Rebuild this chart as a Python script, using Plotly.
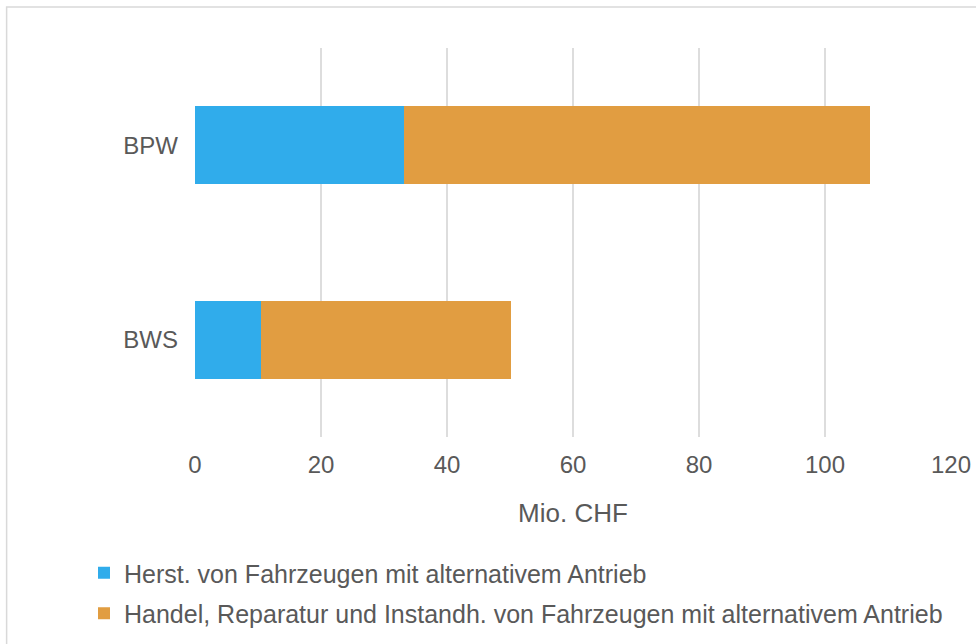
import plotly.graph_objects as go

categories = ["BWS", "BPW"]
herst = [10.5, 33.1]
handel = [39.7, 74.1]
series_names = [
    "Herst. von Fahrzeugen mit alternativem Antrieb",
    "Handel, Reparatur und Instandh. von Fahrzeugen mit alternativem Antrieb",
]
x_ticks = [0, 20, 40, 60, 80, 100, 120]

W, H = 976, 644
L, R, T, B = 194.5, 25, 48, 207
pw = W - L - R
ph = H - T - B

txt = "#595959"
font = "Liberation Sans, Arial, sans-serif"

fig = go.Figure()
fig.add_trace(go.Bar(y=categories, x=herst, orientation="h", name=series_names[0],
                     legendgroup="a",
                     marker=dict(color="#30ACEB", line=dict(width=0))))
fig.add_trace(go.Bar(y=categories, x=handel, orientation="h", name=series_names[1],
                     legendgroup="b",
                     marker=dict(color="#E19D41", line=dict(width=0))))

def px_x(p):
    return (p - L) / pw

def px_y(p):
    return (H - B - p) / ph

fig.add_shape(type="rect", xref="paper", yref="paper",
              x0=px_x(6), x1=px_x(990), y0=px_y(7), y1=px_y(660),
              line=dict(color="#D9D9D9", width=1.5), fillcolor="rgba(0,0,0,0)", layer="below")

fig.update_layout(
    width=W, height=H,
    margin=dict(l=L, r=R, t=T, b=B, pad=0, autoexpand=False),
    barmode="stack",
    bargap=0.6,
    plot_bgcolor="white", paper_bgcolor="white",
    font=dict(family=font, color=txt, size=24),
    xaxis=dict(range=[0, 120], tickvals=x_ticks, showgrid=True, gridcolor="#DDDDDD",
               gridwidth=1.5, zeroline=False, showline=False, ticks="", ticklen=0,
               tickfont=dict(size=24, color=txt), ticklabelstandoff=11,
               title=dict(text="Mio. CHF", font=dict(size=26, color=txt), standoff=26)),
    yaxis=dict(showgrid=False, zeroline=False, showline=False, ticks="",
               tickfont=dict(size=24, color=txt), ticklabelstandoff=16),
    legend=dict(orientation="v", xref="container", yref="container",
                x=84 / W, xanchor="left", y=(H - 550) / H, yanchor="top",
                traceorder="grouped", tracegroupgap=5,
                font=dict(size=25, color=txt), itemwidth=30,
                bgcolor="rgba(0,0,0,0)"),
    showlegend=True,
)

fig.write_html("out.html", config={"displayModeBar": False},
               post_script="document.body.style.margin='0';document.body.style.overflow='hidden';")
